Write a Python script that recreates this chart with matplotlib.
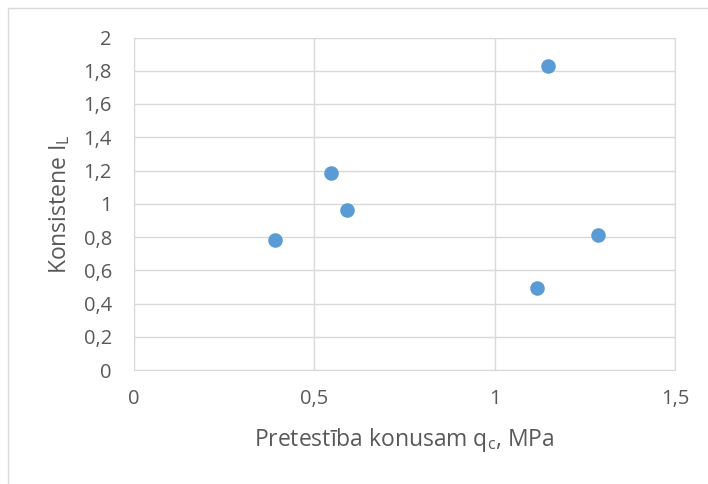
import matplotlib
matplotlib.use('Agg')
import matplotlib.pyplot as plt
from matplotlib.patches import Rectangle

# Cone resistance vs consistency index
qc = [0.39, 0.545, 0.59, 1.118, 1.148, 1.286]
il = [0.783, 1.185, 0.962, 0.495, 1.828, 0.81]

x_ticks = [0, 0.5, 1, 1.5]
y_ticks = [0, 0.2, 0.4, 0.6, 0.8, 1, 1.2, 1.4, 1.6, 1.8, 2]

plt.rcParams['font.family'] = ['Open Sans', 'DejaVu Sans']
text_col = '#595959'
grid_col = '#d9d9d9'

fig = plt.figure(figsize=(7.08, 4.84), dpi=100)
ax = fig.add_axes([134/708, 1-370/484, (675-134)/708, (370-37.5)/484])

# chart area border
fig.patches.append(Rectangle((8/708, -0.1), 1.2, 1-8/484+0.1, transform=fig.transFigure,
                             fill=False, edgecolor=grid_col, linewidth=1))

ax.scatter(qc, il, s=110, color='#5b9bd5', zorder=3, linewidths=0)

ax.set_xlim(0, 1.5)
ax.set_ylim(0, 2)
ax.set_xticks(x_ticks)
ax.set_yticks(y_ticks)
ax.set_xticklabels([str(v).replace('.', ',') for v in x_ticks])
ax.set_yticklabels([str(v).replace('.', ',') for v in y_ticks])
ax.tick_params(length=0, labelsize=14.5, labelcolor=text_col)
ax.tick_params(axis='y', pad=16)
ax.tick_params(axis='x', pad=14)
ax.grid(True, color=grid_col, linewidth=1)
ax.set_axisbelow(True)
for s in ax.spines.values():
    s.set_color(grid_col)

ax.set_xlabel('Pretestība konusam q$_\\mathregular{c}$, MPa', fontsize=16.5, color=text_col, labelpad=12)
ax.set_ylabel('Konsistene I$_\\mathregular{L}$', fontsize=16.5, color=text_col, labelpad=8)

fig.savefig('out.png', dpi=100)
